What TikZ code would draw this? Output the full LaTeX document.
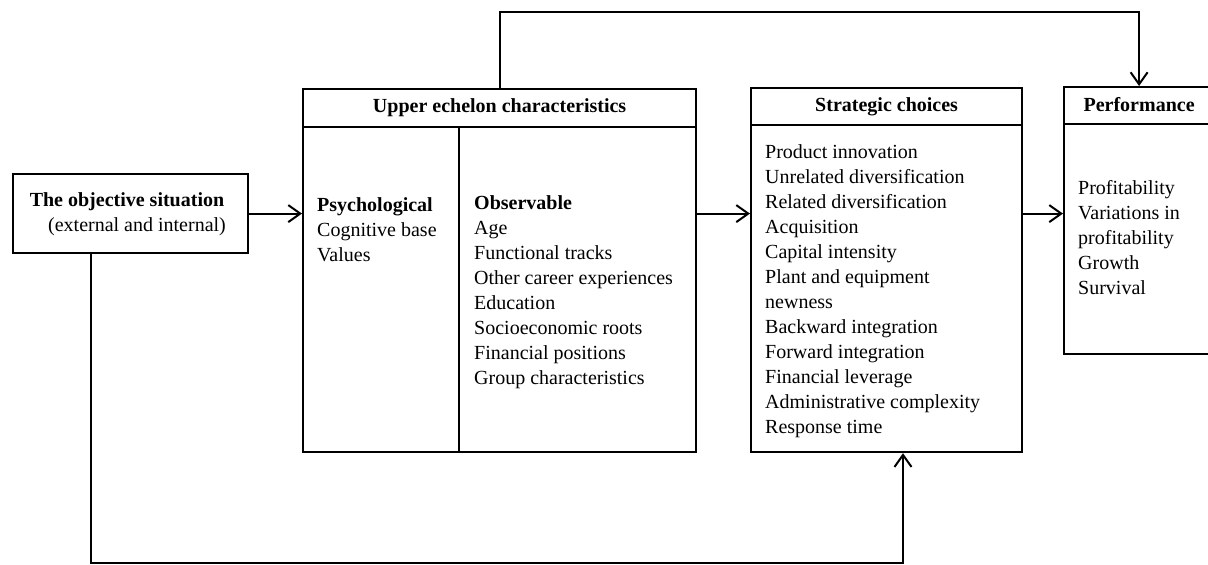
\documentclass[tikz,border=0pt]{standalone}
\usepackage{fontspec}
\setmainfont{Liberation Serif}
\usetikzlibrary{arrows.meta,calc}
\begin{document}
\begin{tikzpicture}[x=1pt,y=-1pt,
  box/.style={draw, line width=2.2pt, inner sep=0pt, anchor=north west},
  rule/.style={line width=2.2pt},
  conn/.style={line width=2pt, -{Straight Barb[length=12pt,width=17pt]}},
  lbl/.style={font=\fontsize{20}{25}\selectfont, inner sep=0pt, align=left, anchor=north west},
  hdr/.style={font=\fontsize{20}{25}\selectfont\bfseries, inner sep=0pt}]
\useasboundingbox (0,0) rectangle (1208,565);

% boxes
\node[box, minimum width=235pt, minimum height=79pt] (obj) at (12,173) {};
\node[box, minimum width=393pt, minimum height=363pt] (upper) at (302,88) {};
\node[box, minimum width=271pt, minimum height=364pt] (strat) at (750,87) {};
\node[box, minimum width=150pt, minimum height=267pt] (perf) at (1063,86) {};

% header rules and column divider
\draw[rule] ($(upper.north west)+(0,39)$) -- ($(upper.north east)+(0,39)$);
\draw[rule] ($(upper.north west)+(157,39)$) -- ($(upper.south west)+(157,0)$);
\draw[rule] ($(strat.north west)+(0,38)$) -- ($(strat.north east)+(0,38)$);
\draw[rule] ($(perf.north west)+(0,38)$) -- ($(perf.north east)+(0,38)$);

% headers
\node[hdr] (upperhdr) at ($(upper.north)+(0,20)$) {Upper echelon characteristics};
\node[hdr] (strathdr) at ($(strat.north)+(0,20)$) {Strategic choices};
\node[hdr] (perfhdr) at ($(perf.north)+(0,19)$) {Performance};

% texts
\node[lbl, align=center, anchor=center] (objtxt) at (127,214)
  {\textbf{The objective situation}\\\hspace*{20pt}(external and internal)};
\node[lbl] (psych) at (317,197)
  {\textbf{Psychological}\\Cognitive base\\Values};
\node[lbl] (observ) at (474,195)
  {\textbf{Observable}\\Age\\Functional tracks\\Other career experiences\\Education\\Socioeconomic roots\\Financial positions\\Group characteristics};
\node[lbl] (stratlist) at (765,144)
  {Product innovation\\Unrelated diversification\\Related diversification\\Acquisition\\Capital intensity\\Plant and equipment\\newness\\Backward integration\\Forward integration\\Financial leverage\\Administrative complexity\\Response time};
\node[lbl] (perflist) at (1078,180)
  {Profitability\\Variations in\\profitability\\Growth\\Survival};

% connectors
\coordinate (topy) at (0,12);
\coordinate (bl) at (91,563);
\coordinate (br) at (903,563);
\draw[conn] (obj.east) -- (obj.east -| upper.west);
\draw[conn] (upper.east |- obj.east) -- (strat.west |- obj.east);
\draw[conn] (strat.east |- obj.east) -- (perf.west |- obj.east);
\draw[conn] (upper.north) -- (upper.north |- topy) -- (perf.north |- topy) -- (perf.north);
\draw[conn] (obj.south -| bl) -- (bl) -- (br) -- (strat.south -| br);
\end{tikzpicture}
\end{document}
